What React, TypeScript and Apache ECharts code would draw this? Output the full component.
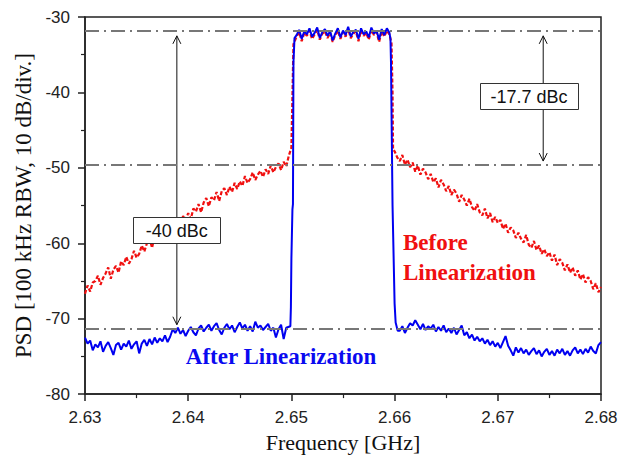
import React, { useEffect, useRef } from "react";
import * as echarts from "echarts";

// ---------- data ----------
const STEP = 0.00025; // GHz sample spacing
const LEFT_START = 2.63;
const PLATEAU_START = 2.6505;
const RED_RIGHT_START = 2.66;
const BLUE_RIGHT_START = 2.6605;

// Before linearization (red), lower sideband 2.6300 .. 2.6500
const redLeft = [
  -66.7, -65.6, -66.4, -65.2, -65.0, -64.3, -65.5, -64.6, -64.0, -63.2,
  -64.7, -63.5, -63.0, -63.9, -62.4, -62.9, -61.8, -62.7, -62.1, -61.0,
  -61.9, -61.4, -60.3, -61.1, -60.0, -59.4, -60.6, -59.0, -59.7, -58.8,
  -59.6, -58.0, -58.4, -57.3, -58.5, -57.4, -56.9, -57.9, -56.4, -56.9,
  -56.0, -56.8, -55.4, -55.8, -54.8, -55.9, -54.6, -54.0, -55.1, -53.9,
  -54.3, -53.2, -54.4, -53.1, -52.7, -53.6, -52.5, -53.2, -52.0, -52.8,
  -51.8, -52.4, -51.1, -52.0, -51.5, -50.6, -51.6, -50.9, -50.4, -51.2,
  -50.2, -50.8, -49.7, -50.6, -49.9, -49.4, -50.3, -49.2, -49.8, -48.4,
  -47.3,
];
const redRise = [
  [2.6501, -40.5],
  [2.6502, -33.6],
];
// in-band 2.6505 .. 2.6595
const redPlateau = [
  -32.6, -32.0, -33.2, -32.1, -32.5, -31.8, -32.9, -32.3, -31.7, -33.0,
  -32.2, -31.9, -32.8, -32.1, -33.3, -32.4, -31.8, -32.9, -32.0, -32.6,
  -31.6, -32.8, -32.2, -31.9, -33.2, -31.8, -32.5, -32.1, -33.0, -31.7,
  -32.4, -32.0, -33.3, -31.9, -32.6, -31.8, -32.3,
];
const redFall = [
  [2.6597, -33.5],
  [2.6598, -40.0],
  [2.65985, -47.6],
];
// upper sideband 2.6600 .. 2.6800
const redRight = [
  -47.8, -48.6, -49.1, -48.3, -49.6, -48.9, -49.9, -49.3, -50.5, -49.7,
  -50.9, -50.1, -50.6, -51.5, -50.8, -51.9, -51.4, -52.6, -51.6, -52.2,
  -53.1, -52.4, -53.6, -52.9, -53.4, -54.5, -53.6, -54.2, -55.0, -54.1,
  -55.2, -55.7, -54.8, -55.9, -56.3, -55.4, -56.7, -56.0, -57.2, -56.5,
  -57.3, -56.9, -58.1, -57.4, -58.6, -57.9, -58.3, -59.3, -58.6, -59.4,
  -59.9, -58.9, -60.2, -60.6, -59.7, -60.9, -60.3, -61.4, -60.8, -61.7,
  -61.2, -62.3, -61.5, -62.9, -62.1, -62.6, -63.6, -62.8, -63.9, -63.2,
  -64.3, -63.6, -64.8, -64.1, -65.2, -64.5, -65.0, -66.1, -65.3, -66.5,
  -65.8,
];

// After linearization (blue), lower sideband 2.6300 .. 2.6495
const blueLeft = [
  -72.5, -73.3, -72.9, -74.2, -73.4, -73.8, -73.0, -74.4, -73.6, -73.1,
  -73.9, -74.8, -73.5, -73.2, -74.1, -73.3, -73.7, -72.9, -74.0, -73.4,
  -73.0, -74.6, -73.3, -72.8, -73.6, -72.7, -73.4, -72.5, -73.2, -72.6,
  -73.0, -72.2, -73.1, -72.4, -71.4, -71.9, -71.2, -72.0, -71.5, -72.3,
  -71.6, -71.1, -71.8, -72.2, -71.3, -70.9, -71.7, -71.2, -70.8, -71.6,
  -71.0, -70.6, -71.5, -72.1, -71.2, -70.7, -71.4, -70.9, -71.8, -71.1,
  -70.5, -71.3, -70.8, -71.6, -71.0, -71.7, -70.4, -71.2, -70.9, -71.5,
  -71.1, -70.7, -71.6, -71.2, -72.5, -71.4, -70.8, -72.7, -71.2,
];
const blueRise = [
  [2.6499, -71.0],
  [2.64995, -68.5],
  [2.65, -62.0],
  [2.6501, -55.5],
  [2.65015, -54.8],
  [2.6502, -36.0],
  [2.6503, -32.8],
];
const bluePlateau = [
  -32.4, -31.7, -32.9, -31.9, -32.3, -31.5, -32.6, -32.1, -31.4, -32.8,
  -32.0, -31.6, -32.5, -31.9, -33.1, -32.2, -31.5, -32.7, -31.8, -32.4,
  -31.3, -32.6, -32.0, -31.7, -32.9, -31.5, -32.3, -31.9, -32.7, -31.4,
  -32.2, -31.8, -33.0, -31.6, -32.4, -31.5, -32.1,
];
const blueFall = [
  [2.6596, -32.9],
  [2.65965, -36.0],
  [2.6598, -55.0],
  [2.66, -68.0],
  [2.6601, -70.5],
  [2.6603, -71.6],
];
// upper sideband 2.6605 .. 2.6800
const blueRight = [
  -71.6, -71.0, -71.9, -71.2, -70.6, -70.9, -70.2, -70.8, -71.4, -70.7,
  -71.5, -71.0, -71.3, -70.8, -71.7, -71.1, -71.6, -70.9, -71.8, -71.3,
  -71.9, -71.2, -72.1, -71.5, -70.9, -72.2, -71.8, -72.6, -72.1, -72.9,
  -72.4, -73.0, -72.6, -73.3, -72.8, -73.5, -73.0, -73.7, -73.2, -73.9,
  -73.1, -72.3, -73.6, -74.2, -74.9, -73.8, -74.5, -73.9, -74.6, -74.1,
  -74.8, -74.3, -73.9, -74.7, -74.2, -75.0, -74.4, -74.0, -74.8, -74.3,
  -74.9, -74.1, -74.6, -74.0, -74.8, -74.3, -74.9, -74.2, -73.8, -74.6,
  -74.1, -74.7, -74.0, -74.5, -73.7, -74.3, -74.6, -73.5, -73.1,
];

// reference levels (dash-dot)
const refLevels = [-31.8, -49.6, -71.4];

// measurement arrows: x, top, bottom
const arrowFreq = [2.6389, 2.6744];
const arrowTop = [-32.5, -32.5];
const arrowBottom = [-70.8, -49.1];

// boxed labels
const boxTexts = ["-40 dBc", "-17.7 dBc"];
const boxFreq = [2.6389, 2.67302];
const boxLevel = [-58.3, -40.5];

// trace labels
const traceTexts = ["Before\nLinearization", "After Linearization"];
const traceFreq = [2.66081, 2.649];
const traceLevel = [-61.9, -75.0];
const traceColors = ["#f01010", "#0a0af0"];

const xTicks = { min: 2.63, max: 2.68, interval: 0.01 };
const yTicks = { min: -80, max: -30, interval: 10 };

// ---------- helpers ----------
const onGrid = (start: number, vals: number[]) =>
  vals.map((v, i) => [Number((start + i * STEP).toFixed(5)), v]);

const redData = [
  ...onGrid(LEFT_START, redLeft),
  ...redRise,
  ...onGrid(PLATEAU_START, redPlateau),
  ...redFall,
  ...onGrid(RED_RIGHT_START, redRight),
];
const blueData = [
  ...onGrid(LEFT_START, blueLeft),
  ...blueRise,
  ...onGrid(PLATEAU_START, bluePlateau),
  ...blueFall,
  ...onGrid(BLUE_RIGHT_START, blueRight),
];

const SANS = '"Liberation Sans", Arial, sans-serif';
const SERIF = '"Liberation Serif", "Times New Roman", serif';

export default function App() {
  const ref = useRef<HTMLDivElement>(null);

  useEffect(() => {
    if (!ref.current) return;
    const chart = echarts.init(ref.current, undefined, { renderer: "svg" });

    const axisCommon = {
      axisLine: { show: true, lineStyle: { color: "#222", width: 1.5 } },
      axisTick: { show: true, length: 7, lineStyle: { color: "#222", width: 1.5 } },
      minorTick: { show: true, splitNumber: 2, length: 4, lineStyle: { color: "#222", width: 1.2 } },
      splitLine: { show: false },
      minorSplitLine: { show: false },
    };

    const option: any = {
      animation: false,
      backgroundColor: "#ffffff",
      grid: {
        left: 85,
        right: 30,
        top: 17,
        bottom: 60,
        show: true,
        borderColor: "#222",
        borderWidth: 1.5,
        backgroundColor: "transparent",
      },
      xAxis: {
        type: "value",
        min: xTicks.min,
        max: xTicks.max,
        interval: xTicks.interval,
        name: "Frequency [GHz]",
        nameLocation: "middle",
        nameGap: 35,
        nameTextStyle: { fontFamily: SERIF, fontSize: 22, color: "#111" },
        ...axisCommon,
        axisLabel: {
          margin: 15,
          fontFamily: SANS,
          fontSize: 17,
          color: "#222",
          formatter: (v: number) => v.toFixed(2),
        },
      },
      yAxis: {
        type: "value",
        min: yTicks.min,
        max: yTicks.max,
        interval: yTicks.interval,
        name: "PSD [100 kHz RBW, 10 dB/div.]",
        nameLocation: "middle",
        nameGap: 50,
        nameTextStyle: { fontFamily: SERIF, fontSize: 23, color: "#111" },
        ...axisCommon,
        axisLabel: {
          margin: 15,
          fontFamily: SANS,
          fontSize: 17,
          color: "#222",
        },
      },
      series: [
        {
          name: "ref",
          type: "line",
          data: [],
          z: 1,
          silent: true,
          markLine: {
            silent: true,
            symbol: "none",
            label: { show: false },
            lineStyle: { color: "#777", width: 2, type: [14, 5, 2, 5] },
            data: refLevels.map((v) => ({ yAxis: v })),
          },
        },
        {
          name: "Before Linearization",
          type: "line",
          data: redData,
          z: 2,
          showSymbol: false,
          symbol: "none",
          lineStyle: { color: "#f01010", width: 2.2, type: [4, 2] },
        },
        {
          name: "After Linearization",
          type: "line",
          data: blueData,
          z: 3,
          showSymbol: false,
          symbol: "none",
          lineStyle: { color: "#0000f0", width: 2 },
        },
        {
          name: "arrows",
          type: "custom",
          coordinateSystem: "cartesian2d",
          z: 4,
          silent: true,
          clip: false,
          encode: { x: 0, y: [1, 2] },
          data: arrowFreq.map((f, i) => [f, arrowTop[i], arrowBottom[i]]),
          renderItem: (_p: any, api: any) => {
            const a = api.coord([api.value(0), api.value(1)]);
            const b = api.coord([api.value(0), api.value(2)]);
            const st = { stroke: "#111", lineWidth: 1, fill: "none" };
            return {
              type: "group",
              children: [
                { type: "line", shape: { x1: a[0], y1: a[1], x2: b[0], y2: b[1] }, style: st },
                {
                  type: "polyline",
                  shape: { points: [[a[0] - 4, a[1] + 8], [a[0], a[1]], [a[0] + 4, a[1] + 8]] },
                  style: st,
                },
                {
                  type: "polyline",
                  shape: { points: [[b[0] - 4, b[1] - 8], [b[0], b[1]], [b[0] + 4, b[1] - 8]] },
                  style: st,
                },
              ],
            };
          },
        },
        {
          name: "boxes",
          type: "custom",
          coordinateSystem: "cartesian2d",
          z: 5,
          silent: true,
          clip: false,
          encode: { x: 0, y: 1 },
          data: boxFreq.map((f, i) => [f, boxLevel[i]]),
          renderItem: (p: any, api: any) => {
            const c = api.coord([api.value(0), api.value(1)]);
            const w = p.dataIndex === 0 ? 87 : 98;
            const h = 26;
            return {
              type: "group",
              children: [
                {
                  type: "rect",
                  shape: { x: Math.round(c[0] - w / 2) + 0.5, y: Math.round(c[1] - h / 2) + 0.5, width: w, height: h },
                  style: { fill: "#fff", stroke: "#333", lineWidth: 1 },
                },
                {
                  type: "text",
                  x: c[0],
                  y: c[1] + 1,
                  style: {
                    text: boxTexts[p.dataIndex],
                    fontFamily: SANS,
                    fontSize: 18,
                    fill: "#111",
                    align: "center",
                    verticalAlign: "middle",
                  },
                },
              ],
            };
          },
        },
        {
          name: "labels",
          type: "custom",
          coordinateSystem: "cartesian2d",
          z: 5,
          silent: true,
          clip: false,
          encode: { x: 0, y: 1 },
          data: traceFreq.map((f, i) => [f, traceLevel[i]]),
          renderItem: (p: any, api: any) => {
            const c = api.coord([api.value(0), api.value(1)]);
            const i = p.dataIndex;
            return {
              type: "text",
              x: c[0],
              y: c[1],
              style: {
                text: traceTexts[i],
                fontFamily: SERIF,
                fontWeight: "bold",
                fontSize: 23,
                lineHeight: 30,
                fill: traceColors[i],
                align: i === 0 ? "left" : "center",
                verticalAlign: "middle",
              },
            };
          },
        },
      ],
    };

    chart.setOption(option);
    return () => chart.dispose();
  }, []);

  return (
    <div
      ref={ref}
      style={{ position: "fixed", left: 0, top: 0, width: 631, height: 458, background: "#fff" }}
    />
  );
}
